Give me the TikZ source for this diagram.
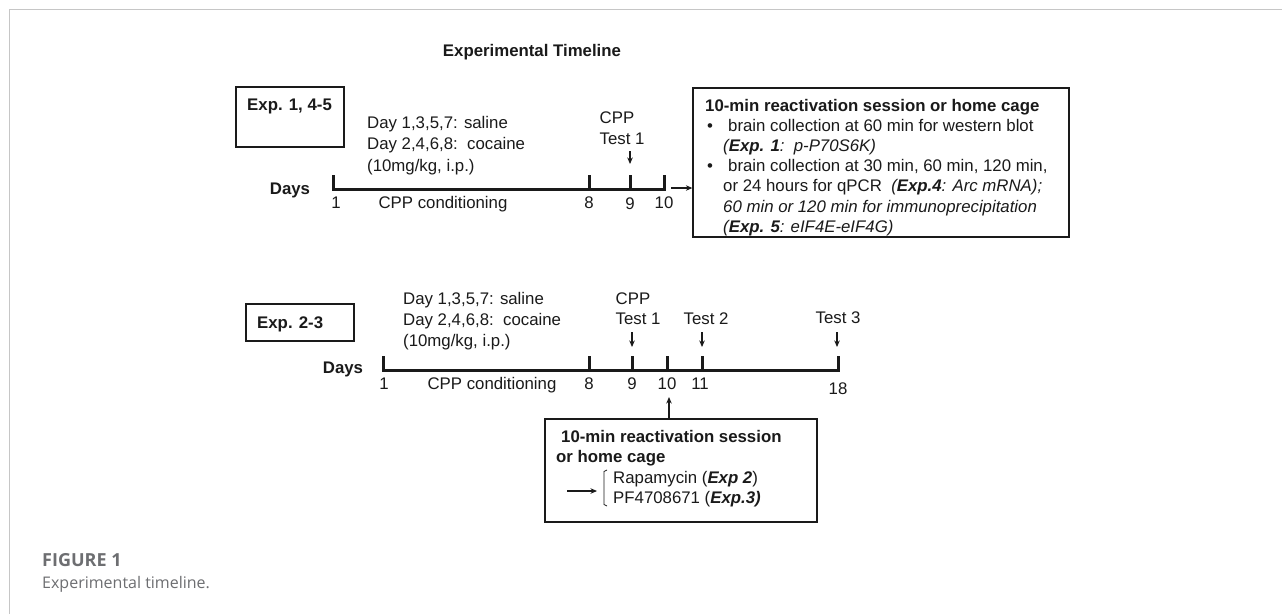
\documentclass[tikz,border=0pt]{standalone}
\usepackage{fontspec}
\setmainfont{Liberation Sans}
\newfontfamily\capfont{Open Sans}
\usetikzlibrary{arrows.meta,calc}
\definecolor{ink}{HTML}{1A1A1A}
\definecolor{capgray}{HTML}{6D6E71}
\definecolor{rulegray}{HTML}{C6C6C6}
\begin{document}
\begin{tikzpicture}[x=1pt,y=-1pt,
  txt/.style={inner sep=0pt, text=ink, font=\fontsize{16.8}{20}\selectfont, anchor=base west},
  txtc/.style={txt, anchor=base},
  bld/.style={txt, font=\fontsize{16.8}{20}\selectfont\bfseries},
  bldc/.style={bld, anchor=base},
  frame/.style={draw=ink, line width=1.3pt, inner sep=0pt},
  axis/.style={draw=ink, line width=3pt, line join=miter},
  arr/.style={draw=ink, line width=1.2pt, -{Stealth[length=6.5pt,width=5.5pt]}},
  bracket/.style={draw=ink, line width=0.8pt},
  capbold/.style={anchor=base west, inner sep=0pt, text=capgray, font=\capfont\fontsize{18}{20}\selectfont\bfseries},
  capreg/.style={anchor=base west, inner sep=0pt, text=capgray, font=\capfont\fontsize{16}{20}\selectfont},
]
\useasboundingbox (0,0) rectangle (1282,614);
\fill[white] (0,0) rectangle (1282,614);
\draw[rulegray, line width=1.5pt] (9.5,614) -- (9.5,9.5) -- (1282,9.5);

% ---------- title ----------
\node[bldc] (title) at (532,56) {Experimental Timeline};

% ---------- top timeline (Exp. 1, 4-5) ----------
\node[frame, minimum width=108pt, minimum height=60pt] (expA) at (290,117) {};
\node[bld] (expAt) at (247,110) {Exp. 1, 4-5};
\node[txt] (dA1) at (367,128) {Day 1,3,5,7: saline};
\node[txt] (dA2) at (367,149.5) {Day 2,4,6,8:\ \ cocaine};
\node[txt] (dA3) at (367,171) {(10mg/kg, i.p.)};
\node[bldc] (daysA) at (290,194) {Days};

\coordinate (tA1) at (333,189);
\coordinate (tA8) at (589,189);
\coordinate (tA9) at (630,189);
\coordinate (tA10) at (664,189);
\draw[axis] ($(tA1)+(0,-14)$) -- (tA1) -- (tA10) -- ($(tA10)+(0,-14)$);
\draw[axis] (tA8) -- ++(0,-14);
\draw[axis] (tA9) -- ++(0,-14);

\node[txtc] (lA1) at (336,208) {1};
\node[txtc] (lAc) at (443,208) {CPP conditioning};
\node[txtc] (lA8) at (589,208) {8};
\node[txtc] (lA9) at (630,209) {9};
\node[txtc] (lA10) at (664,208) {10};

\node[txtc] (cppA) at (617,123) {CPP};
\node[txtc] (testA) at (622,144) {Test 1};
\coordinate (arA) at (630,151);
\draw[arr] (arA) -- ++(0,13);

\node[frame, minimum width=376pt, minimum height=149pt] (boxA) at (881,162.5) {};
\coordinate (a10r) at (671,188);
\draw[arr] (a10r) -- (a10r -| boxA.west);

\node[bld] (hA) at (705,111) {10-min reactivation session or home cage};
\node[txt] (bu1) at (707,131.2) {•};
\node[txt] (l1) at (728,131.2) {brain collection at 60 min for western blot};
\node[txt] (l2) at (723,151.4) {\itshape (\textbf{Exp. 1}:\ \ p-P70S6K)};
\node[txt] (bu2) at (707,171.6) {•};
\node[txt] (l3) at (728,171.6) {brain collection at 30 min, 60 min, 120 min,};
\node[txt] (l4) at (723,191.8) {or 24 hours for qPCR\ \ \textit{(\textbf{Exp.4}: Arc mRNA);}};
\node[txt] (l5) at (723,212) {\itshape 60 min or 120 min for immunoprecipitation};
\node[txt] (l6) at (723,232.2) {\itshape (\textbf{Exp. 5}: eIF4E-eIF4G)};

% ---------- bottom timeline (Exp. 2-3) ----------
\node[frame, minimum width=108pt, minimum height=37pt] (expB) at (300,322.5) {};
\node[bld] (expBt) at (257,328) {Exp. 2-3};
\node[txt] (dB1) at (403,304) {Day 1,3,5,7: saline};
\node[txt] (dB2) at (403,325) {Day 2,4,6,8:\ \ cocaine};
\node[txt] (dB3) at (403,346) {(10mg/kg, i.p.)};
\node[bldc] (daysB) at (343,373) {Days};

\coordinate (tB1) at (383,370);
\coordinate (tB8) at (589,370);
\coordinate (tB9) at (632,370);
\coordinate (tB10) at (667,370);
\coordinate (tB11) at (702,370);
\coordinate (tB18) at (838,370);
\draw[axis] ($(tB1)+(0,-14)$) -- (tB1) -- (tB18) -- ($(tB18)+(0,-14)$);
\foreach \t in {tB8,tB9,tB10,tB11} \draw[axis] (\t) -- ++(0,-14);

\node[txtc] (lB1) at (384,389) {1};
\node[txtc] (lBc) at (492,389) {CPP conditioning};
\node[txtc] (lB8) at (589,389) {8};
\node[txtc] (lB9) at (632,389) {9};
\node[txtc] (lB10) at (667,389) {10};
\node[txtc] (lB11) at (700,389) {11};
\node[txtc] (lB18) at (838,394) {18};

\node[txtc] (cppB) at (633,304) {CPP};
\node[txtc] (testB1) at (638,324) {Test 1};
\node[txtc] (testB2) at (706,324) {Test 2};
\node[txtc] (testB3) at (838,323) {Test 3};
\coordinate (arB1) at (632,332);
\coordinate (arB2) at (702,332);
\coordinate (arB3) at (837,332);
\draw[arr] (arB1) -- ++(0,15);
\draw[arr] (arB2) -- ++(0,15);
\draw[arr] (arB3) -- ++(0,15);

\node[frame, minimum width=272pt, minimum height=103pt] (boxB) at (681,470.5) {};
\coordinate (upTip) at (669,397);
\draw[arr] (upTip |- boxB.north) -- (upTip);

\node[bld] (hB1) at (561,442) {10-min reactivation session};
\node[bld] (hB2) at (556,462) {or home cage};
\coordinate (drugArr) at (567,491);
\coordinate (drugEnd) at (597,491);
\draw[arr] (drugArr) -- (drugEnd);
\draw[bracket] (607,470) -- (604,471.5) -- (604,504.5) -- (607,506);
\node[txt] (rapa) at (613,483) {Rapamycin (\textbf{\textit{Exp 2}})};
\node[txt] (pf) at (613,503) {PF4708671 (\textbf{\textit{Exp.3)}}};

% ---------- caption ----------
\node[capbold] (fig) at (42,566) {FIGURE 1};
\node[capreg] (cap) at (42,588) {Experimental timeline.};
\end{tikzpicture}
\end{document}
